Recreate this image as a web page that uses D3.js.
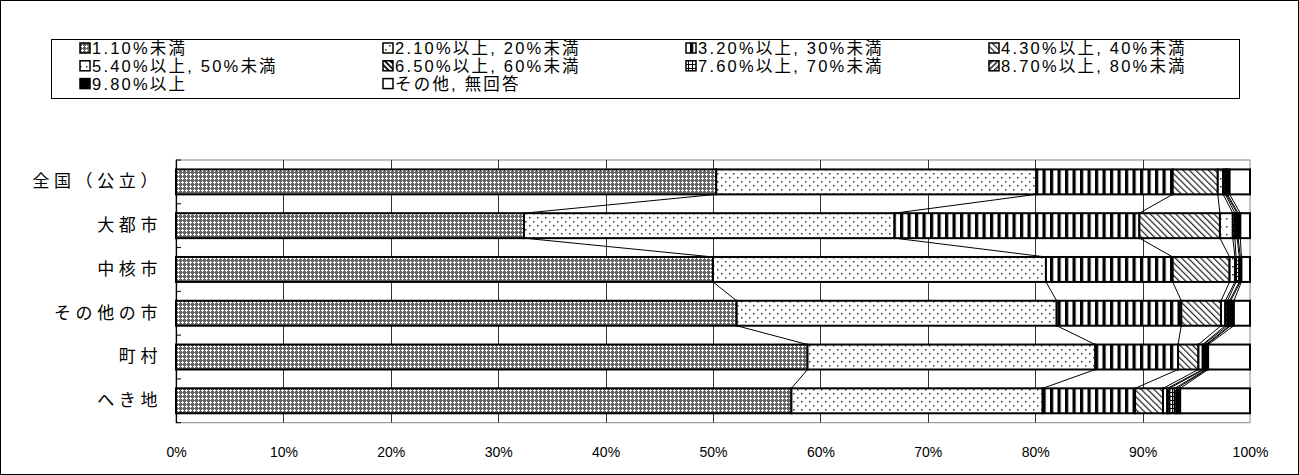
<!DOCTYPE html>
<html><head><meta charset="utf-8">
<script src="https://cdn.jsdelivr.net/npm/d3@7"></script>
<style>body{margin:0;background:#fff} svg{display:block}</style>
</head><body><svg id="c" width="1299" height="475"></svg>
<script>
const categories = ["全国（公立）","大都市","中核市","その他の市","町村","へき地"];
const seriesNames = ["1.10%未満","2.10%以上, 20%未満","3.20%以上, 30%未満","4.30%以上, 40%未満","5.40%以上, 50%未満","6.50%以上, 60%未満","7.60%以上, 70%未満","8.70%以上, 80%未満","9.80%以上","その他, 無回答"];
const s1 = [50.3,32.4,50.0,52.2,58.8,57.3];
const s2 = [29.8,34.5,31.0,29.8,26.8,23.4];
const s3 = [12.7,22.8,11.8,11.6,7.7,8.6];
const s4 = [4.2,7.5,5.3,3.7,1.9,2.6];
const s5 = [0.5,1.2,0.5,0.4,0.4,0.4];
const s6 = [0.2,0.2,0.1,0.2,0.1,0.2];
const s7 = [0.1,0.2,0.3,0.2,0.2,0.5];
const s8 = [0.1,0.1,0.1,0.1,0.1,0.2];
const s9 = [0.2,0.2,0.1,0.3,0.1,0.3];
const s10 = [1.9,0.9,0.8,1.5,3.9,6.5];
const xTicks = [0,10,20,30,40,50,60,70,80,90,100];

const series = [s1,s2,s3,s4,s5,s6,s7,s8,s9,s10];
const svg = d3.select("#c");
const defs = svg.append("defs");

// patterns
function pat(id, w, h, build, transform){
  const p = defs.append("pattern").attr("id", id).attr("patternUnits","userSpaceOnUse")
    .attr("width", w).attr("height", h);
  if (transform) p.attr("patternTransform", transform);
  p.append("rect").attr("width", w).attr("height", h).attr("fill", "#fff");
  build(p);
}
pat("p0", 4, 4, p => {
  p.select("rect").attr("fill", "#666");
  p.append("rect").attr("x",1).attr("y",2).attr("width",3).attr("height",1).attr("fill","#fff");
  p.append("rect").attr("x",2).attr("y",1).attr("width",1).attr("height",3).attr("fill","#fff");
});
pat("p1", 8, 8, p => {
  p.append("rect").attr("x",1).attr("y",1).attr("width",1.5).attr("height",1.5).attr("fill","#333");
  p.append("rect").attr("x",5).attr("y",5).attr("width",1.5).attr("height",1.5).attr("fill","#333");
});
pat("p2", 7.5, 8, p => {
  p.append("rect").attr("x",0).attr("y",0).attr("width",3.2).attr("height",8).attr("fill","#000");
});
pat("p3", 4.5, 4.5, p => {
  p.append("rect").attr("x",0).attr("y",0).attr("width",1.2).attr("height",4.5).attr("fill","#222");
}, "rotate(-45)");
pat("p4", 6, 8, p => {
  p.append("rect").attr("x",2).attr("y",2).attr("width",1.5).attr("height",1.5).attr("fill","#333");
});
pat("p5", 4, 4, p => {
  p.append("rect").attr("x",0).attr("y",0).attr("width",2).attr("height",4).attr("fill","#111");
}, "rotate(-45)");
pat("p6", 4, 4, p => {
  p.append("rect").attr("x",0).attr("y",0).attr("width",1).attr("height",4).attr("fill","#000");
  p.append("rect").attr("x",0).attr("y",0).attr("width",4).attr("height",1).attr("fill","#000");
});
pat("p7", 4, 4, p => {
  p.append("rect").attr("x",0).attr("y",0).attr("width",1.5).attr("height",4).attr("fill","#111");
}, "rotate(45)");
pat("p8", 4, 4, p => { p.select("rect").attr("fill","#000"); });
pat("p9", 4, 4, p => {});

const x = d3.scaleLinear().domain([0,100]).range([176,1250]);
const y = d3.scaleBand().domain(categories).range([160,422.7]).paddingInner(0.43).paddingOuter(0.215);

// outer border
svg.append("rect").attr("x",0.5).attr("y",0.5).attr("width",1298).attr("height",474)
  .attr("fill","none").attr("stroke","#000").attr("stroke-width",1);

// legend
const legend = svg.append("g");
legend.append("rect").attr("x",51.5).attr("y",39.5).attr("width",1188).attr("height",59)
  .attr("fill","#fff").attr("stroke","#000").attr("stroke-width",1);
seriesNames.forEach((name,i) => {
  const col = i % 4, row = Math.floor(i/4);
  const gx = 80 + col*303, gy = 48 + row*17.8;
  legend.append("rect").attr("x",gx).attr("y",gy-5).attr("width",10).attr("height",10)
    .attr("fill",`url(#p${i})`).attr("stroke","#000").attr("stroke-width",1.5);
  legend.append("text").attr("x",gx+12).attr("y",gy).attr("dy","0.36em")
    .attr("font-family","'Liberation Sans', 'Noto Sans CJK JP', sans-serif").attr("font-size",16.5)
    .attr("letter-spacing","2.2px").attr("fill","#000").text(name);
});

// plot frame
svg.append("rect").attr("x",176).attr("y",160).attr("width",1074).attr("height",262.7)
  .attr("fill","#fff").attr("stroke","#888").attr("stroke-width",1);
// gridlines
svg.append("g").selectAll("line").data(xTicks.slice(1,-1)).join("line")
  .attr("x1",d=>Math.round(x(d))+0.5).attr("x2",d=>Math.round(x(d))+0.5)
  .attr("y1",160).attr("y2",422.7).attr("stroke","#333").attr("stroke-width",1);
// left axis line
svg.append("line").attr("x1",176.5).attr("x2",176.5).attr("y1",160).attr("y2",423)
  .attr("stroke","#000").attr("stroke-width",1.2);
// inner ticks at band boundaries
const bounds = categories.map((c,i)=> y.range()[0] + i*y.step()).concat([y.range()[1]]);
svg.append("g").selectAll("line").data(bounds).join("line")
  .attr("x1",176).attr("x2",181).attr("y1",d=>d).attr("y2",d=>d)
  .attr("stroke","#000").attr("stroke-width",1);

// stacked data
const stacked = categories.map((c,ci) => {
  let acc = 0;
  return series.map((s,si) => { const a = acc; acc += s[ci]; return {c, si, x0:a, x1:acc}; });
});

// series lines
const sl = svg.append("g");
for (let ci=0; ci<categories.length-1; ci++) {
  for (let si=0; si<series.length-1; si++) {
    const a = stacked[ci][si].x1, b = stacked[ci+1][si].x1;
    sl.append("line").attr("x1",x(a)).attr("y1",y(categories[ci])+y.bandwidth())
      .attr("x2",x(b)).attr("y2",y(categories[ci+1]))
      .attr("stroke","#000").attr("stroke-width",1);
  }
}

// bars
const bars = svg.append("g");
stacked.forEach(row => {
  bars.selectAll(null).data(row).join("rect")
    .attr("x",d=>x(d.x0)).attr("width",d=>x(d.x1)-x(d.x0))
    .attr("y",d=>y(d.c)).attr("height",y.bandwidth())
    .attr("fill",d=>`url(#p${d.si})`).attr("stroke","#000").attr("stroke-width",2);
});

// x axis labels
const xa = svg.append("g").attr("transform","translate(0,444)")
  .call(d3.axisBottom(x).tickValues(xTicks).tickSize(0).tickFormat(d=>d+"%"));
xa.select(".domain").remove();
xa.selectAll("text").attr("font-family","'Liberation Sans', Arial, sans-serif").attr("font-size",14).attr("fill","#000");

// y axis labels
const ya = svg.append("g").attr("transform","translate(162,0)")
  .call(d3.axisLeft(y).tickSize(0).tickPadding(0));
ya.select(".domain").remove();
ya.selectAll("text").attr("font-family","'Noto Sans CJK JP', sans-serif").attr("font-size",17)
  .attr("letter-spacing","4.6px").attr("fill","#000");
</script></body></html>
